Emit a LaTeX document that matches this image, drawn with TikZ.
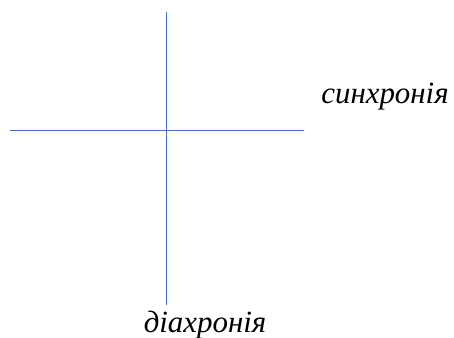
\documentclass[tikz,border=0pt]{standalone}
\usepackage{fontspec}
\setmainfont{Liberation Serif}
\usetikzlibrary{positioning}
\definecolor{AxisBlue}{HTML}{4472C4}

\begin{document}
\begin{tikzpicture}[
    x=1bp, y=1bp,
    axisline/.style={draw=AxisBlue, line width=1bp},
    axislabel/.style={font=\fontsize{31}{36}\selectfont\itshape, inner sep=0pt, anchor=base}
]
\useasboundingbox (0,0) rectangle (454,337);
\coordinate (top) at (166.5,325);
\coordinate (bottom) at (166.5,32);
\coordinate (left) at (10,206.5);
\coordinate (right) at (304,206.5);

\draw[axisline] (top) -- (bottom);
\draw[axisline] (left) -- (right);
\node[axislabel] (sync) at (385,234) {синхронія};
\node[axislabel] (diach) at (205,5) {діахронія};
\end{tikzpicture}
\end{document}
